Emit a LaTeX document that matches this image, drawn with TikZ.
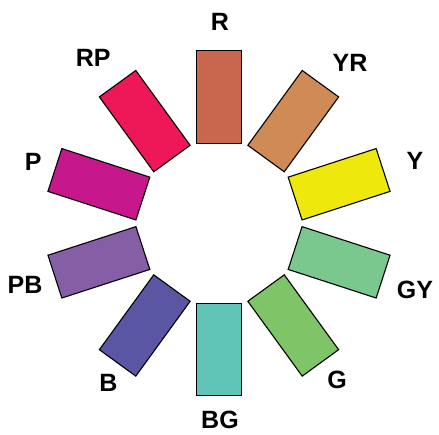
\documentclass[tikz,border=0pt]{standalone}
\usepackage{fontspec}
\setmainfont{Liberation Sans}
\begin{document}
\begin{tikzpicture}[x=1pt,y=1pt,
  swatch/.style={draw=black, line width=1.1pt, rectangle, minimum width=92.5pt, minimum height=45pt, inner sep=0pt},
  lbl/.style={font=\fontsize{25}{25}\selectfont\bfseries, inner sep=0pt, anchor=center}]
\useasboundingbox (-219,-211.7) rectangle (220,223.3);
\definecolor{cR}{RGB}{200,102,78}
\definecolor{cYR}{RGB}{208,138,86}
\definecolor{cY}{RGB}{238,232,12}
\definecolor{cGY}{RGB}{122,200,142}
\definecolor{cG}{RGB}{128,196,104}
\definecolor{cBG}{RGB}{96,197,182}
\definecolor{cB}{RGB}{90,86,164}
\definecolor{cPB}{RGB}{134,94,166}
\definecolor{cP}{RGB}{198,24,140}
\definecolor{cRP}{RGB}{238,24,88}
\node[swatch, fill=cR,  rotate=90]   (sR)  at (90:126.3) {};
\node[swatch, fill=cYR, rotate=54]   (sYR) at (54:126.3) {};
\node[swatch, fill=cY,  rotate=18]   (sY)  at (18:126.3) {};
\node[swatch, fill=cGY, rotate=-18]  (sGY) at (-18:126.3) {};
\node[swatch, fill=cG,  rotate=-54]  (sG)  at (-54:126.3) {};
\node[swatch, fill=cBG, rotate=-90]  (sBG) at (-90:126.3) {};
\node[swatch, fill=cB,  rotate=-126] (sB)  at (-126:126.3) {};
\node[swatch, fill=cPB, rotate=-162] (sPB) at (-162:126.3) {};
\node[swatch, fill=cP,  rotate=162]  (sP)  at (162:126.3) {};
\node[swatch, fill=cRP, rotate=126]  (sRP) at (126:126.3) {};
\node[lbl] (lR)  at (1,201.6) {R};
\node[lbl] (lYR) at (131,160) {YR};
\node[lbl] (lY)  at (196,62.6) {Y};
\node[lbl] (lGY) at (196,-66.7) {GY};
\node[lbl] (lG)  at (118,-156.7) {G};
\node[lbl] (lBG) at (1,-196.7) {BG};
\node[lbl] (lB)  at (-110.7,-160) {B};
\node[lbl] (lPB) at (-194,-61.7) {PB};
\node[lbl] (lP)  at (-185.7,61.6) {P};
\node[lbl] (lRP) at (-125.7,165) {RP};
\end{tikzpicture}
\end{document}
